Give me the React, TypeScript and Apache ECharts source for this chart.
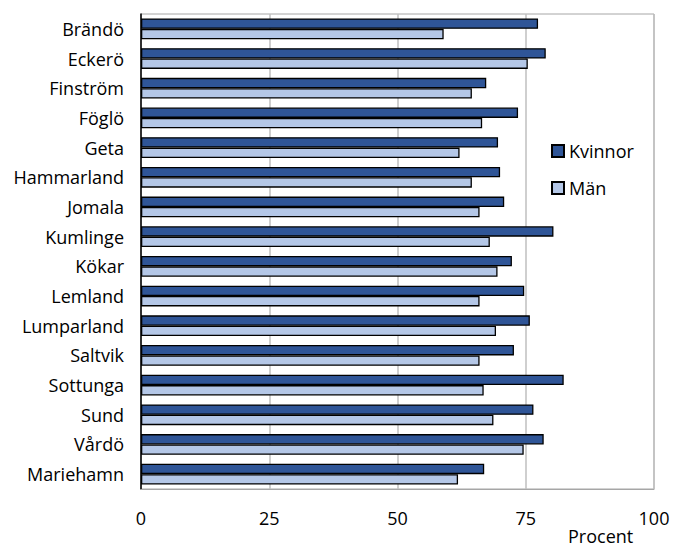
import React, { useEffect, useRef } from "react";
import * as echarts from "echarts";

const categories = [
  "Brändö", "Eckerö", "Finström", "Föglö", "Geta", "Hammarland", "Jomala", "Kumlinge",
  "Kökar", "Lemland", "Lumparland", "Saltvik", "Sottunga", "Sund", "Vårdö", "Mariehamn",
];
const kvinnor = [77.4, 78.9, 67.3, 73.5, 69.6, 70.0, 70.8, 80.4, 72.3, 74.7, 75.8, 72.7, 82.4, 76.5, 78.5, 66.9];
const man = [59.0, 75.4, 64.5, 66.5, 62.1, 64.5, 66.0, 68.0, 69.5, 66.0, 69.2, 66.0, 66.8, 68.7, 74.6, 61.8];
const seriesNames = ["Kvinnor", "Män"];
const xTicks = [0, 25, 50, 75, 100];
const axisTitle = "Procent";

const FONT = "'Open Sans', sans-serif";

export default function App() {
  const ref = useRef<HTMLDivElement>(null);
  useEffect(() => {
    if (!ref.current) return;
    const chart = echarts.init(ref.current, null, { renderer: "svg" });
    chart.setOption({
      animation: false,
      backgroundColor: "#ffffff",
      textStyle: { fontFamily: FONT },
      grid: {
        left: 141,
        right: 23,
        top: 14,
        bottom: 58,
        show: true,
        borderColor: "#A6A6A6",
        borderWidth: 1,
        containLabel: false,
      },
      legend: {
        orient: "vertical",
        left: 546,
        top: 137,
        itemWidth: 12,
        itemHeight: 12,
        itemGap: 19,
        icon: "rect",
        textStyle: { fontFamily: FONT, fontSize: 18, color: "#000" },
        data: seriesNames,
      },
      xAxis: {
        type: "value",
        min: xTicks[0],
        max: xTicks[xTicks.length - 1],
        interval: 25,
        axisLine: { show: true, lineStyle: { color: "#A6A6A6", width: 1 } },
        axisTick: { show: false },
        axisLabel: { fontFamily: FONT, fontSize: 18, color: "#000", margin: 20 },
        splitLine: { show: true, lineStyle: { color: "#BFBFBF", width: 1.5 } },
      },
      yAxis: {
        type: "category",
        inverse: true,
        data: categories,
        axisLine: { show: true, lineStyle: { color: "#000", width: 1.5 } },
        axisTick: { show: false },
        axisLabel: { fontFamily: FONT, fontSize: 18, color: "#000", margin: 17 },
      },
      series: [
        {
          name: seriesNames[0],
          type: "bar",
          data: kvinnor,
          barGap: "0%",
          barCategoryGap: "30%",
          itemStyle: { color: "#2F5597", borderColor: "#000", borderWidth: 1.3 },
        },
        {
          name: seriesNames[1],
          type: "bar",
          data: man,
          barGap: "0%",
          barCategoryGap: "30%",
          itemStyle: { color: "#B4C7E7", borderColor: "#000", borderWidth: 1.3 },
        },
      ],
      graphic: [
        {
          type: "text",
          left: 568,
          top: 527,
          style: { text: axisTitle, fontFamily: FONT, fontSize: 18, fill: "#000" },
        },
      ],
    });
    return () => chart.dispose();
  }, []);
  return (
    <div
      ref={ref}
      style={{ position: "fixed", left: 0, top: 0, width: 677, height: 547 }}
    />
  );
}
